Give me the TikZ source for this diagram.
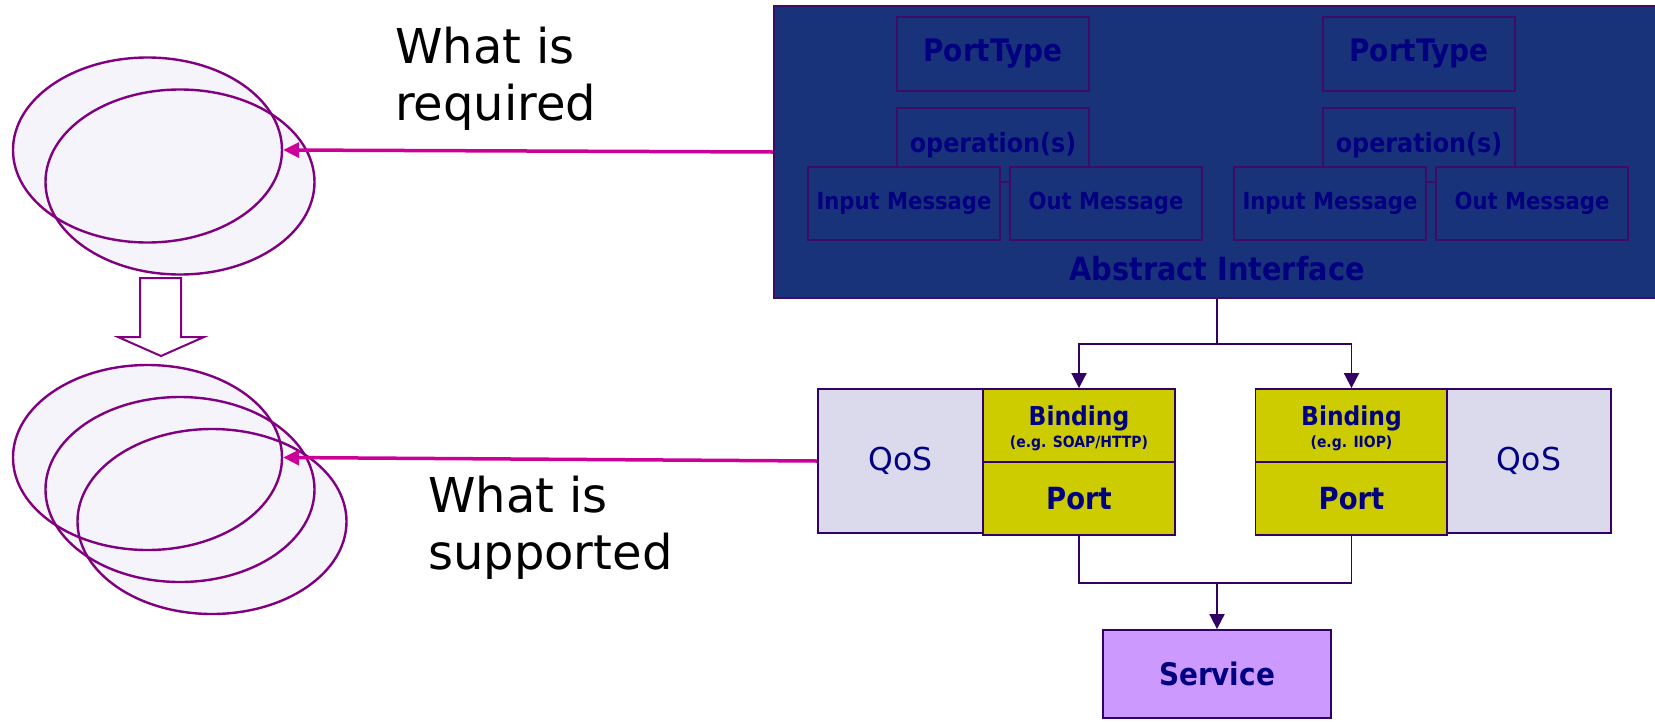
\documentclass[tikz,border=0pt]{standalone}
\usepackage{fontspec}
\setmainfont{DejaVu Sans}
\newfontfamily\condsans{DejaVu Sans Condensed}
\usetikzlibrary{arrows.meta,shapes.geometric}
\definecolor{ifblue}{RGB}{25,51,122}
\definecolor{ifline}{RGB}{62,12,102}
\definecolor{navytxt}{RGB}{0,0,128}
\definecolor{qosfill}{RGB}{218,218,236}
\definecolor{bindfill}{RGB}{204,204,0}
\definecolor{servfill}{RGB}{204,153,255}
\definecolor{magline}{RGB}{204,0,153}
\definecolor{ringline}{RGB}{128,0,128}
\definecolor{ringfill}{RGB}{244,244,250}
\definecolor{connline}{RGB}{51,0,102}
\newcommand{\bsz}[1]{\condsans\fontsize{#1}{#1}\selectfont\bfseries}

\begin{document}
\begin{tikzpicture}[x=1pt,y=-1pt,
  ifbox/.style={draw=ifline, line width=1.4pt, fill=ifblue, inner sep=0pt,
    text=navytxt, minimum width=192pt, minimum height=74pt},
  bindbox/.style={draw=connline, line width=1.8pt, fill=bindfill, inner sep=0pt,
    text=navytxt, minimum width=192pt, minimum height=73pt},
  qosbox/.style={draw=connline, line width=1.8pt, fill=qosfill, inner sep=0pt,
    text=navytxt, minimum width=165pt, minimum height=144pt,
    font=\fontsize{31.5}{32}\selectfont},
  ring/.style={ellipse, draw=ringline, line width=2.4pt, inner sep=0pt,
    minimum width=269pt, minimum height=185pt},
  conn/.style={draw=connline, line width=1.8pt},
  tip/.style={-{Triangle[length=15pt,width=15pt]}},
  magarrow/.style={draw=magline, line width=3.5pt, -{Triangle[length=16pt,width=15pt]}},
  bigtxt/.style={align=left, inner sep=0pt, font=\fontsize{48}{57}\selectfont}]

  \useasboundingbox (0,0) rectangle (1655,721);

  % abstract interface
  \node[ifbox, line width=1.8pt, minimum width=886pt, minimum height=292pt] (abs) at (1217,152) {};
  \node[ifbox, font=\bsz{31}] (ptL) at (993,54) {PortType};
  \node[ifbox, font=\bsz{31}] (ptR) at (1419,54) {PortType};
  \node[ifbox, font=\bsz{26.5}] (opL) at (993,145) {operation(s)};
  \node[ifbox, font=\bsz{26.5}] (opR) at (1419,145) {operation(s)};
  \node[ifbox, minimum height=73pt, font=\bsz{23.5}] (inL) at (904,203.5) {Input Message};
  \node[ifbox, minimum height=73pt, font=\bsz{23.5}] (outL) at (1106,203.5) {Out Message};
  \node[ifbox, minimum height=73pt, font=\bsz{23.5}] (inR) at (1330,203.5) {Input Message};
  \node[ifbox, minimum height=73pt, font=\bsz{23.5}] (outR) at (1532,203.5) {Out Message};
  \node[text=navytxt, inner sep=0pt, font=\bsz{32}] (absname) at (1217,269) {Abstract Interface};

  % bindings, ports and QoS
  \node[qosbox] (qosL) at (900.5,461) {QoS};
  \node[bindbox] (bindL) at (1079,425.5) {};
  \node[bindbox] (portL) at (1079,498.5) {};
  \node[bindbox] (bindR) at (1351.5,425.5) {};
  \node[bindbox] (portR) at (1351.5,498.5) {};
  \node[qosbox, minimum width=164pt] (qosR) at (1529,461) {QoS};
  \node[text=navytxt, inner sep=0pt, font=\bsz{26}] (bindLname) at (1079,418) {Binding};
  \node[text=navytxt, inner sep=0pt, font=\bsz{15.5}] (bindLeg) at (1079,443) {(e.g. SOAP/HTTP)};
  \node[text=navytxt, inner sep=0pt, font=\bsz{26}] (bindRname) at (1351.5,418) {Binding};
  \node[text=navytxt, inner sep=0pt, font=\bsz{15.5}] (bindReg) at (1351.5,443) {(e.g. IIOP)};
  \node[text=navytxt, inner sep=0pt, font=\bsz{30.5}] (portLname) at (portL) {Port};
  \node[text=navytxt, inner sep=0pt, font=\bsz{30.5}] (portRname) at (portR) {Port};

  % service
  \node[draw=connline, line width=1.8pt, fill=servfill, text=navytxt, inner sep=0pt,
        minimum width=228pt, minimum height=88pt, font=\bsz{31}] (serv) at (1217,674) {Service};

  % connectors
  \coordinate (split) at (1217,344);
  \coordinate (join) at (1217,583);
  \draw[conn] (abs.south) -- (split);
  \draw[conn, tip] (split) -| (bindL.north);
  \draw[conn, tip] (split) -| (bindR.north);
  \draw[conn] (portL.south) |- (join) -| (portR.south);
  \draw[conn, tip] (join) -- (serv.north);

  % rings on the left: shading first, outlines on top
  \foreach \cx/\cy in {147.5/150, 180/182, 147.5/457.5, 180/489.5, 212/521.5}
    \fill[ringfill] (\cx,\cy) ellipse (134.5 and 92.5);
  \node[ring] (req1) at (147.5,150) {};
  \node[ring] (req2) at (180,182) {};
  \node[ring] (sup1) at (147.5,457.5) {};
  \node[ring] (sup2) at (180,489.5) {};
  \node[ring] (sup3) at (212,521.5) {};

  % hollow down arrow
  \draw[ringline, line width=2pt, fill=white]
    (140,278) -- (181,278) -- (181,337) -- (204,337) -- (161,356)
    -- (118,337) -- (140,337) -- cycle;

  % mapping arrows
  \draw[magarrow] (abs.west) -- (req1.east);
  \draw[magarrow] (qosL.west) -- (sup1.east);

  \node[bigtxt, anchor=west] (required) at (395,79) {What is\\required};
  \node[bigtxt, anchor=west] (supported) at (428,527.5) {What is\\supported};
\end{tikzpicture}
\end{document}
